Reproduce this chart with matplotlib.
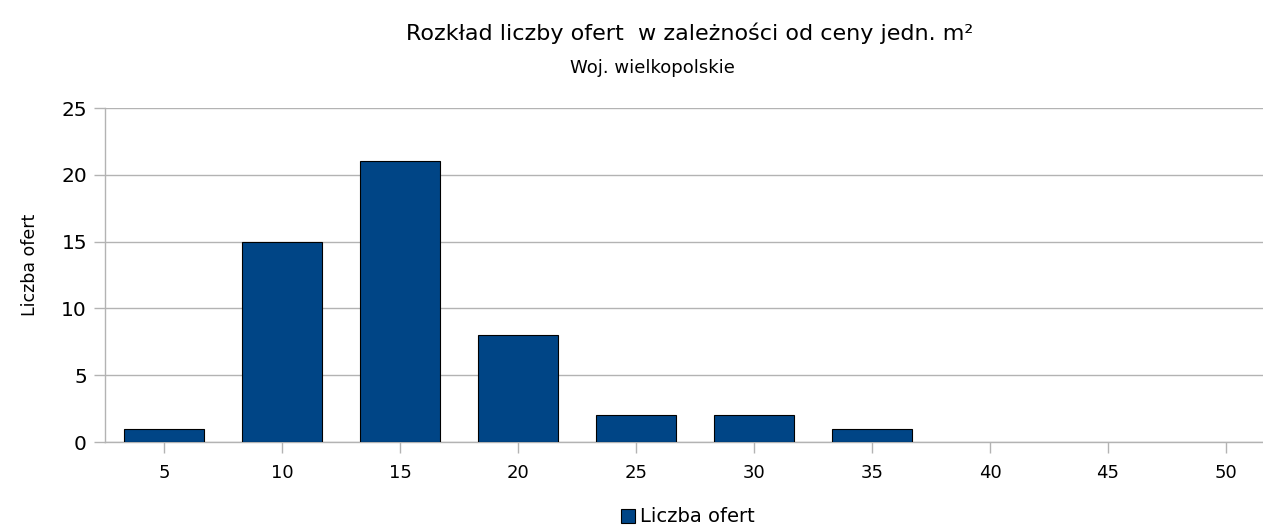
import matplotlib
matplotlib.use("Agg")
import matplotlib.pyplot as plt
import numpy as np
from matplotlib.patches import Rectangle

# dane
ceny = ["5", "10", "15", "20", "25", "30", "35", "40", "45", "50"]
liczba_ofert = [1, 15, 21, 8, 2, 2, 1, 0, 0, 0]

plt.rcParams["font.family"] = ["DejaVu Sans"]

fig = plt.figure(figsize=(12.63, 5.28), dpi=100)
W, H = 1263, 528
# obszar wykresu w pikselach (prawy brzeg wychodzi poza obraz)
left, right, top, bottom = 105, 1285, 108, 442
ax = fig.add_axes([left / W, 1 - bottom / H, (right - left) / W, (bottom - top) / H])

x = np.arange(len(ceny))
krawedzie = ["black" if v > 0 else "none" for v in liczba_ofert]
ax.bar(x, liczba_ofert, width=0.67, color="#004586", edgecolor=krawedzie, linewidth=0.8, zorder=3)

ax.set_xlim(-0.5, len(ceny) - 0.5)
ax.set_ylim(0, 25)
ax.set_yticks([0, 5, 10, 15, 20, 25])
ax.set_xticks(x)
ax.set_xticklabels(ceny)

ax.grid(axis="y", color="#b3b3b3", linewidth=1, zorder=0)
for s in ["top", "right"]:
    ax.spines[s].set_visible(False)
for s in ["left", "bottom"]:
    ax.spines[s].set_color("#b3b3b3")
    ax.spines[s].set_linewidth(1)
ax.tick_params(axis="both", colors="#b3b3b3", length=8, width=1, labelcolor="black")
ax.tick_params(axis="y", pad=5, labelsize=14.5)
ax.tick_params(axis="x", pad=8, labelsize=13)

fig.text(30 / W, 1 - 265 / H, "Liczba ofert", rotation=90, ha="center", va="center", fontsize=12.5)
fig.text(690 / W, 1 - 33 / H, "Rozkład liczby ofert  w zależności od ceny jedn. m²", ha="center", va="center", fontsize=16)
fig.text(652 / W, 1 - 68 / H, "Woj. wielkopolskie", ha="center", va="center", fontsize=13)

# legenda
fig.patches.append(Rectangle((621 / W, 1 - 523 / H), 14 / W, 14 / H, transform=fig.transFigure,
                             facecolor="#004586", edgecolor="black", linewidth=0.8))
fig.text(640 / W, 1 - 516 / H, "Liczba ofert", ha="left", va="center", fontsize=14)

fig.savefig("out.png", dpi=100)
